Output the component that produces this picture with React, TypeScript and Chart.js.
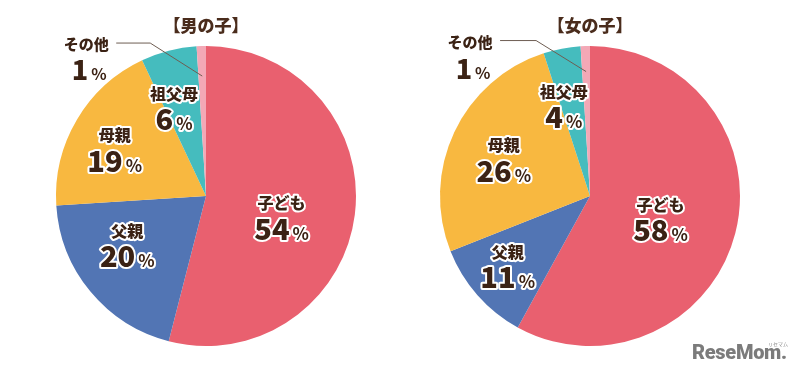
import { useEffect, useRef } from "react";
import { Chart, registerables } from "chart.js";

Chart.register(...registerables);

// ---- data ----
const categories = ["子ども", "父親", "母親", "祖父母", "その他"];
const boyValues = [54, 20, 19, 6, 1];
const girlValues = [58, 11, 26, 4, 1];
const chartTitles = ["【男の子】", "【女の子】"];

// ---- style ----
const sliceColors = ["#E9606F", "#5275B4", "#F8B840", "#45BCBE", "#F3A8B6"];
const TEXT = "#3b2214";
const FONT = '"Noto Sans CJK JP", "Noto Sans", sans-serif';
const WEIGHT = "900";

type InsideLabel = { r: number; da: number };
type OutsideLabel = { r: number; dx: number; dy: number; h: number; nx: number; ny: number; px: number; py: number };

const boyLayout = {
  inside: [
    { r: 0.52, da: 7 },
    { r: 0.61, da: 9 },
    { r: 0.69, da: -2.5 },
    { r: 0.64, da: -5 },
  ] as InsideLabel[],
  outside: { r: 0.8, dx: -52, dy: -33, h: 34, nx: -64, ny: 1, px: -61, py: 27 } as OutsideLabel,
};
const girlLayout = {
  inside: [
    { r: 0.49, da: 2 },
    { r: 0.71, da: 2 },
    { r: 0.63, da: -1 },
    { r: 0.64, da: -5 },
  ] as InsideLabel[],
  outside: { r: 0.83, dx: -50, dy: -31, h: 36, nx: -66, ny: 2, px: -63, py: 29 } as OutsideLabel,
};

function drawPercent(ctx: CanvasRenderingContext2D, cx: number, cy: number, value: number, big: number, small: number, outline: boolean) {
  const num = String(value);
  ctx.font = `${WEIGHT} ${big}px ${FONT}`;
  const wNum = ctx.measureText(num).width;
  ctx.font = `bold ${small}px ${FONT}`;
  const wPct = ctx.measureText("%").width;
  const gap = 3;
  const total = wNum + gap + wPct;
  const x0 = cx - total / 2;
  ctx.textAlign = "left";
  ctx.textBaseline = "alphabetic";
  const base = cy + big * 0.36;
  ctx.lineJoin = "round";
  ctx.font = `${WEIGHT} ${big}px ${FONT}`;
  if (outline) {
    ctx.strokeStyle = "#ffffff";
    ctx.lineWidth = 4;
    ctx.strokeText(num, x0, base);
  }
  ctx.fillStyle = TEXT;
  ctx.fillText(num, x0, base);
  ctx.font = `bold ${small}px ${FONT}`;
  if (outline) ctx.strokeText("%", x0 + wNum + gap, base);
  ctx.fillText("%", x0 + wNum + gap, base);
}

function drawName(ctx: CanvasRenderingContext2D, cx: number, cy: number, text: string, size: number, outline: boolean) {
  ctx.font = `${WEIGHT} ${size}px ${FONT}`;
  ctx.textAlign = "center";
  ctx.textBaseline = "middle";
  ctx.lineJoin = "round";
  if (outline) {
    ctx.strokeStyle = "#ffffff";
    ctx.lineWidth = 4;
    ctx.strokeText(text, cx, cy);
  }
  ctx.fillStyle = TEXT;
  ctx.fillText(text, cx, cy);
}

const labelPlugin = {
  id: "sliceLabels",
  afterDatasetsDraw(chart: any, _args: any, opts: any) {
    const ctx: CanvasRenderingContext2D = chart.ctx;
    const meta = chart.getDatasetMeta(0);
    const values: number[] = chart.data.datasets[0].data;
    const labels: string[] = chart.data.labels;
    const layout = opts.layout;
    ctx.save();
    let centerX = 0;
    meta.data.forEach((arc: any, i: number) => {
      const p = arc.getProps(["x", "y", "startAngle", "endAngle", "outerRadius"], true);
      centerX = p.x;
      const mid = (p.startAngle + p.endAngle) / 2;
      if (i < layout.inside.length) {
        const L = layout.inside[i];
        const a = mid + (L.da * Math.PI) / 180;
        const cx = p.x + Math.cos(a) * p.outerRadius * L.r;
        const cy = p.y + Math.sin(a) * p.outerRadius * L.r;
        drawName(ctx, cx, cy - 12, labels[i], 16, true);
        drawPercent(ctx, cx, cy + 14, values[i], 29, 17, true);
      } else {
        const L = layout.outside;
        const ax = p.x + Math.cos(mid) * p.outerRadius * L.r;
        const ay = p.y + Math.sin(mid) * p.outerRadius * L.r;
        const ex = ax + L.dx;
        const ey = ay + L.dy;
        ctx.beginPath();
        ctx.moveTo(ax, ay);
        ctx.lineTo(ex, ey);
        ctx.lineTo(ex - L.h, ey);
        ctx.strokeStyle = "#6e5d52";
        ctx.lineWidth = 1;
        ctx.stroke();
        drawName(ctx, ex + L.nx, ey + L.ny, labels[i], 15, false);
        drawPercent(ctx, ex + L.px, ey + L.py, values[i], 27, 16, false);
      }
    });
    // title
    ctx.font = `${WEIGHT} 17px ${FONT}`;
    ctx.textAlign = "center";
    ctx.textBaseline = "middle";
    ctx.fillStyle = "#4a2c1c";
    ctx.fillText(opts.title, centerX, 26);
    ctx.restore();
  },
};

function PieCanvas({ values, title, layout, padding, left }: any) {
  const ref = useRef<HTMLCanvasElement | null>(null);
  useEffect(() => {
    if (!ref.current) return;
    const chart = new Chart(ref.current, {
      type: "pie",
      data: {
        labels: categories,
        datasets: [
          {
            data: values,
            backgroundColor: sliceColors,
            borderWidth: 0,
            hoverOffset: 0,
            offset: 0,
          },
        ],
      },
      options: {
        responsive: false,
        animation: false,
        events: [],
        layout: { padding },
        plugins: {
          legend: { display: false },
          tooltip: { enabled: false },
          title: { display: false },
          sliceLabels: { layout, title },
        } as any,
      },
      plugins: [labelPlugin as any],
    });
    return () => chart.destroy();
  }, []);
  return (
    <canvas
      ref={ref}
      width={400}
      height={380}
      style={{ position: "absolute", left, top: 0, width: 400, height: 380 }}
    />
  );
}

export default function App() {
  return (
    <div
      style={{
        position: "fixed",
        left: 0,
        top: 0,
        width: 800,
        height: 380,
        background: "#ffffff",
        overflow: "hidden",
      }}
    >
      <PieCanvas
        values={boyValues}
        title={chartTitles[0]}
        layout={boyLayout}
        padding={{ left: 56, right: 44, top: 46, bottom: 34 }}
        left={0}
      />
      <PieCanvas
        values={girlValues}
        title={chartTitles[1]}
        layout={girlLayout}
        padding={{ left: 40, right: 60, top: 46, bottom: 34 }}
        left={400}
      />
      <div
        style={{
          position: "absolute",
          left: 692,
          top: 340,
          fontFamily: "Roboto, 'Liberation Sans', sans-serif",
          fontWeight: 900,
          fontSize: 20,
          color: "#7b7b7b",
          letterSpacing: -0.3,
          lineHeight: "24px",
        }}
      >
        ReseMom.
      </div>
      <div
        style={{
          position: "absolute",
          left: 768,
          top: 341,
          fontFamily: "'Noto Sans CJK JP', sans-serif",
          fontSize: 5,
          color: "#8a8a8a",
          lineHeight: "6px",
        }}
      >
        リセマム
      </div>
    </div>
  );
}
